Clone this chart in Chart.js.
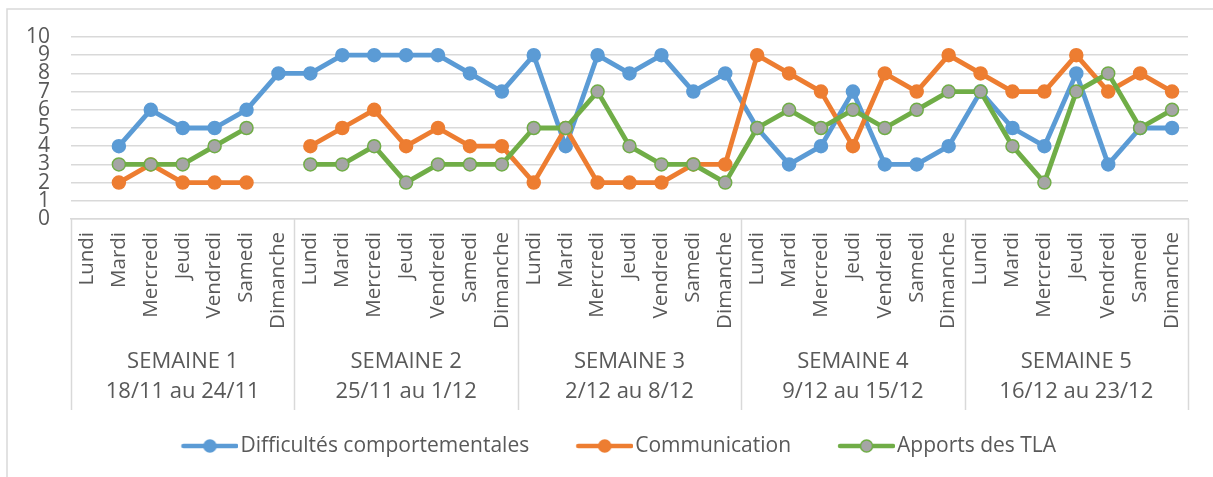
<!DOCTYPE html>
<html>
<head>
<meta charset="utf-8">
<title>Suivi hebdomadaire</title>
<script src="https://cdn.jsdelivr.net/npm/chart.js@4.4.1/dist/chart.umd.min.js"></script>
<style>
  html, body { margin: 0; padding: 0; background: #fff; }
  canvas { display: block; }
</style>
</head>
<body>
<canvas id="lineGraph" width="1213" height="477"></canvas>
<script>
// jours et semaines (axe a deux niveaux)
const days = ['Lundi', 'Mardi', 'Mercredi', 'Jeudi', 'Vendredi', 'Samedi', 'Dimanche'];
const weeks = [
    ['SEMAINE 1', '18/11 au 24/11'],
    ['SEMAINE 2', '25/11 au 1/12'],
    ['SEMAINE 3', '2/12 au 8/12'],
    ['SEMAINE 4', '9/12 au 15/12'],
    ['SEMAINE 5', '16/12 au 23/12']
];
const yTicks = [0, 1, 2, 3, 4, 5, 6, 7, 8, 9, 10];

const difficultes = [null, 4, 6, 5, 5, 6, 8,   8, 9, 9, 9, 9, 8, 7,   9, 4, 9, 8, 9, 7, 8,   5, 3, 4, 7, 3, 3, 4,   7, 5, 4, 8, 3, 5, 5];
const communication = [null, 2, 3, 2, 2, 2, null,   4, 5, 6, 4, 5, 4, 4,   2, 5, 2, 2, 2, 3, 3,   9, 8, 7, 4, 8, 7, 9,   8, 7, 7, 9, 7, 8, 7];
const apports = [null, 3, 3, 3, 4, 5, null,   3, 3, 4, 2, 3, 3, 3,   5, 5, 7, 4, 3, 3, 2,   5, 6, 5, 6, 5, 6, 7,   7, 4, 2, 7, 8, 5, 6];

const seriesNames = ['Difficultés comportementales', 'Communication', 'Apports des TLA'];

const labels = [];
weeks.forEach(() => days.forEach(d => labels.push(d)));

const FONT = "'Open Sans', 'DejaVu Sans', sans-serif";
const TEXT = '#595959';
const GRID = '#D9D9D9';

// petit symbole de legende : trait + marqueur
function legendSymbol(line, fill, border) {
    const c = document.createElement('canvas');
    c.width = 87;
    c.height = 18;
    const g = c.getContext('2d');
    g.strokeStyle = line;
    g.lineWidth = 4.5;
    g.lineCap = 'round';
    g.beginPath();
    g.moveTo(32, 9);
    g.lineTo(85, 9);
    g.stroke();
    g.beginPath();
    g.arc(58.5, 9, 6, 0, Math.PI * 2);
    g.fillStyle = fill;
    g.fill();
    g.lineWidth = 1.5;
    g.strokeStyle = border;
    g.stroke();
    return c;
}

const frameAndDividers = {
    id: 'frameAndDividers',
    beforeDraw: (chart) => {
        const ctx = chart.ctx;
        ctx.save();
        ctx.fillStyle = 'white';
        ctx.fillRect(0, 0, chart.width, chart.height);
        ctx.strokeStyle = GRID;
        ctx.lineWidth = 1.5;
        ctx.strokeRect(7, 9, chart.width + 20, chart.height + 20);
        ctx.restore();
    },
    afterDraw: (chart) => {
        const ctx = chart.ctx;
        const x2 = chart.scales.x2;
        const top = chart.chartArea.bottom;
        const bottom = x2.bottom;
        const step = x2.width / weeks.length;
        ctx.save();
        ctx.strokeStyle = GRID;
        ctx.lineWidth = 1.5;
        for (let i = 0; i <= weeks.length; i++) {
            const px = Math.round(x2.left + i * step) + 0.5;
            ctx.beginPath();
            ctx.moveTo(px, top);
            ctx.lineTo(px, bottom);
            ctx.stroke();
        }
        ctx.restore();
    }
};

const ctx = document.getElementById('lineGraph').getContext('2d');

const chart = new Chart(ctx, {
    type: 'line',
    data: {
        labels: labels,
        datasets: [{
            label: seriesNames[0],
            data: difficultes,
            borderColor: '#5B9BD5',
            backgroundColor: '#5B9BD5',
            pointBorderColor: '#5B9BD5',
            order: 2
        }, {
            label: seriesNames[1],
            data: communication,
            borderColor: '#ED7D31',
            backgroundColor: '#ED7D31',
            pointBorderColor: '#ED7D31',
            order: 1
        }, {
            label: seriesNames[2],
            data: apports,
            borderColor: '#70AD47',
            backgroundColor: '#A5A5A5',
            pointBorderColor: '#70AD47',
            order: 0
        }]
    },
    options: {
        responsive: false,
        animation: false,
        devicePixelRatio: 1,
        elements: {
            line: { borderWidth: 4.8, tension: 0, borderCapStyle: 'round', borderJoinStyle: 'round' },
            point: { radius: 6.5, hoverRadius: 6.5, borderWidth: 1.5 }
        },
        spanGaps: false,
        layout: {
            padding: { top: 37, left: 28, right: 25, bottom: 10.5 }
        },
        scales: {
            x: {
                type: 'category',
                offset: true,
                grid: { display: false, drawTicks: false },
                border: { display: true, color: GRID, width: 1.5 },
                ticks: {
                    autoSkip: false,
                    minRotation: 90,
                    maxRotation: 90,
                    padding: 13,
                    color: TEXT,
                    font: { family: FONT, size: 20.5 }
                },
                afterFit: (scale) => { scale.height = 126; }
            },
            x2: {
                type: 'category',
                position: 'bottom',
                labels: weeks,
                offset: true,
                grid: { display: false, drawTicks: false },
                border: { display: false },
                ticks: {
                    autoSkip: false,
                    maxRotation: 0,
                    padding: 2,
                    color: TEXT,
                    font: { family: FONT, size: 22, lineHeight: 30 / 22 }
                },
                afterFit: (scale) => { scale.height = 65; }
            },
            y: {
                min: 0,
                max: 10,
                afterBuildTicks: (scale) => { scale.ticks = yTicks.map(v => ({ value: v })); },
                grid: { color: GRID, lineWidth: 1.5, drawTicks: false },
                border: { display: false },
                ticks: {
                    autoSkip: false,
                    stepSize: 1,
                    padding: 21,
                    color: TEXT,
                    font: { family: FONT, size: 21 }
                },
                afterFit: (scale) => { scale.width = 43; }
            }
        },
        plugins: {
            tooltip: { enabled: false },
            legend: {
                position: 'bottom',
                labels: {
                    usePointStyle: true,
                    pointStyleWidth: 70,
                    padding: 25.5,
                    color: TEXT,
                    font: { family: FONT, size: 21 },
                    generateLabels: (chart) => chart.data.datasets.map((ds, i) => ({
                        text: ds.label,
                        datasetIndex: i,
                        hidden: false,
                        lineWidth: 0,
                        fillStyle: ds.borderColor,
                        strokeStyle: ds.borderColor,
                        fontColor: TEXT,
                        pointStyle: legendSymbol(ds.borderColor, ds.backgroundColor, ds.pointBorderColor)
                    }))
                }
            }
        }
    },
    plugins: [frameAndDividers]
});
</script>
</body>
</html>
